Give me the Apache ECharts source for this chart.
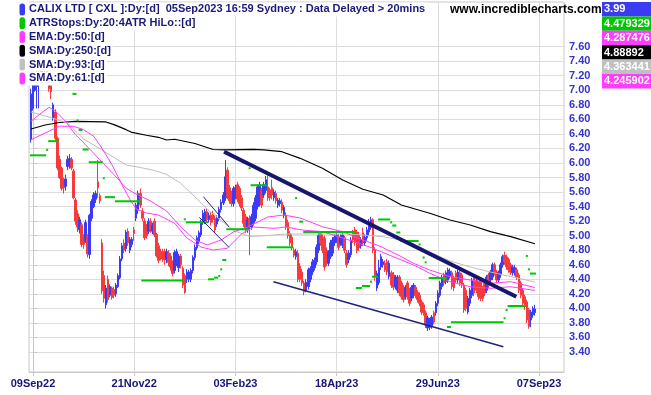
<!DOCTYPE html>
<html><head><meta charset="utf-8">
<script src="https://cdn.jsdelivr.net/npm/echarts@6/dist/echarts.min.js"></script>
<style>html,body{margin:0;padding:0;background:#fff}#c{width:651px;height:395px}</style>
</head><body><div id="c"></div>
<script>
// ---------- data ----------
const tickIdx = [0, 50, 100, 150, 200, 250];
const tickLabels = ['09Sep22', '21Nov22', '03Feb23', '18Apr23', '29Jun23', '07Sep23'];
const priceTicks = [3.4, 3.6, 3.8, 4.0, 4.2, 4.4, 4.6, 4.8, 5.0, 5.2, 5.4, 5.6, 5.8, 6.0, 6.2, 6.4, 6.6, 6.8, 7.0, 7.2, 7.4, 7.6];
const barStart = -1; // trading-day index of first bar (0 = 09Sep22)

const opens = [6.32,6.75,7.00,7.05,7.10,7.25,7.35,7.30,7.28,7.20,7.10,
6.62,6.70,6.34,6.05,5.93,5.72,5.68,5.95,6.00,6.05,
5.89,5.49,5.30,5.08,5.15,4.98,4.93,5.00,4.74,5.24,
5.40,5.50,5.74,5.55,4.90,4.45,4.05,4.40,4.18,4.28,
4.26,4.20,4.30,4.42,4.68,4.90,4.82,5.06,4.80,4.88,
5.08,5.24,5.35,5.58,5.34,5.20,5.12,5.06,5.20,5.06,
5.20,5.02,4.86,4.78,4.78,4.78,4.67,4.76,4.72,4.62,
4.52,4.62,4.56,4.72,4.55,4.45,4.40,4.40,4.40,4.52,
4.70,4.83,4.92,5.01,5.18,5.20,5.33,5.22,5.28,5.30,
5.24,5.16,5.24,5.36,5.45,5.52,5.90,5.66,5.58,5.44,
5.54,5.70,5.65,5.52,5.35,5.26,5.08,5.24,5.12,5.18,
5.24,5.40,5.44,5.63,5.56,5.62,5.67,5.63,5.66,5.52,
5.58,5.42,5.44,5.46,5.28,5.28,5.18,5.03,4.98,4.80,
4.71,4.76,4.58,4.50,4.35,4.25,4.30,4.40,4.50,4.56,
4.64,4.80,5.03,4.98,4.96,4.80,4.62,4.71,4.76,4.90,
4.94,4.98,4.90,4.87,4.97,4.76,4.67,4.74,5.05,5.08,
5.05,5.01,4.86,5.04,4.90,4.97,5.05,5.11,5.22,4.80,
4.28,4.35,4.57,4.60,4.62,4.64,4.44,4.49,4.46,4.30,
4.25,4.43,4.35,4.29,4.16,4.35,4.25,4.14,4.18,4.29,
4.22,4.18,4.09,4.05,3.94,3.73,3.74,3.76,3.94,3.94,
4.07,4.18,4.30,4.46,4.37,4.39,4.45,4.49,4.42,4.49,
4.39,4.49,4.46,4.32,4.25,3.95,4.07,4.18,4.42,4.39,
4.35,4.39,4.28,4.35,4.25,4.46,4.39,4.43,4.60,4.50,
4.39,4.46,4.60,4.73,4.71,4.67,4.60,4.49,4.49,4.53,
4.46,4.35,4.25,4.16,4.09,3.98,3.84,3.91,3.94];

const closes = [6.95,7.15,7.20,7.15,7.25,7.35,7.30,7.28,7.15,7.02,6.98,
6.80,6.34,5.93,5.80,5.65,5.66,5.78,6.05,6.06,5.93,
5.52,5.20,5.12,5.22,4.88,4.88,5.18,4.75,5.28,5.47,
5.56,5.58,5.66,5.48,4.24,4.14,4.28,4.12,4.30,4.15,
4.18,4.32,4.45,4.68,4.86,4.80,5.05,4.90,4.95,4.95,
5.03,5.42,5.58,5.42,5.24,4.97,5.00,5.20,5.08,5.14,
5.01,4.72,4.66,4.70,4.68,4.67,4.78,4.63,4.57,4.48,
4.77,4.78,4.72,4.60,4.32,4.22,4.50,4.50,4.52,4.70,
4.84,4.97,5.04,5.19,5.31,5.33,5.22,5.28,5.18,5.22,
5.08,5.24,5.36,5.46,5.56,5.81,5.54,5.48,5.44,5.65,
5.66,5.50,5.44,5.38,5.17,5.08,5.22,5.12,5.26,5.42,
5.52,5.67,5.70,5.42,5.70,5.77,5.52,5.52,5.56,5.60,
5.48,5.49,5.48,5.35,5.39,5.12,5.00,4.90,4.84,4.73,
4.78,4.40,4.40,4.35,4.23,4.36,4.53,4.55,4.64,4.66,
4.84,5.00,4.90,4.80,4.57,4.62,4.77,4.90,4.94,4.98,
5.01,4.84,4.98,5.01,4.80,4.60,4.76,4.94,4.94,4.90,
4.80,4.83,4.94,4.90,4.98,5.08,5.19,5.22,4.80,4.43,
4.48,4.56,4.71,4.64,4.53,4.50,4.62,4.32,4.29,4.43,
4.43,4.21,4.16,4.12,4.29,4.16,4.07,4.29,4.32,4.18,
4.12,4.07,3.95,3.94,3.77,3.87,3.84,3.88,3.81,4.07,
4.21,4.35,4.43,4.35,4.49,4.53,4.51,4.30,4.28,4.39,
4.50,4.35,4.32,3.98,4.00,4.14,4.25,4.39,4.21,4.25,
4.16,4.14,4.14,4.21,4.43,4.32,4.50,4.60,4.49,4.39,
4.49,4.60,4.71,4.64,4.57,4.53,4.50,4.57,4.56,4.43,
4.25,4.18,4.07,4.02,3.84,3.75,3.95,4.00,3.99];

const lows = [6.28,6.72,6.98,6.75,6.75,7.20,7.22,7.20,7.10,6.98,6.88,
6.58,6.30,5.90,5.78,5.62,5.58,5.62,5.90,5.92,5.90,
5.50,5.15,5.05,5.03,4.84,4.82,4.90,4.70,4.68,5.20,
5.38,5.45,5.52,5.44,4.20,4.08,4.00,4.08,4.15,4.12,
4.14,4.16,4.28,4.40,4.65,4.76,4.78,4.86,4.76,4.84,
4.93,5.20,5.30,5.38,5.20,4.94,4.96,5.02,5.04,5.02,
4.98,4.70,4.62,4.66,4.64,4.60,4.62,4.58,4.52,4.44,
4.48,4.58,4.50,4.55,4.28,4.20,4.35,4.36,4.36,4.48,
4.66,4.80,4.88,4.98,5.15,5.16,5.18,5.18,5.14,5.18,
5.04,5.12,5.20,5.32,5.42,5.48,5.50,5.44,5.40,5.40,
5.50,5.46,5.40,5.34,5.12,5.04,5.04,4.73,5.08,5.14,
5.20,5.36,5.40,5.38,5.52,5.58,5.48,5.48,5.50,5.48,
5.44,5.38,5.40,5.31,5.24,5.08,4.96,4.86,4.80,4.70,
4.67,4.36,4.36,4.31,4.18,4.22,4.26,4.36,4.46,4.52,
4.60,4.76,4.86,4.76,4.52,4.58,4.58,4.68,4.72,4.86,
4.90,4.80,4.86,4.83,4.76,4.56,4.62,4.70,4.90,4.86,
4.76,4.79,4.82,4.86,4.86,4.93,5.01,5.08,4.76,4.38,
4.24,4.32,4.53,4.56,4.50,4.46,4.40,4.28,4.25,4.26,
4.21,4.17,4.12,4.08,4.12,4.12,4.03,4.10,4.14,4.14,
4.08,4.03,3.91,3.90,3.73,3.69,3.70,3.72,3.78,3.90,
4.03,4.15,4.26,4.31,4.33,4.35,4.41,4.26,4.24,4.35,
4.35,4.31,4.28,3.94,3.96,3.92,4.03,4.14,4.17,4.21,
4.12,4.10,4.10,4.17,4.21,4.28,4.35,4.39,4.45,4.35,
4.35,4.42,4.56,4.60,4.53,4.49,4.46,4.45,4.45,4.39,
4.21,4.14,4.03,3.98,3.80,3.72,3.74,3.87,3.90];

const highs = [7.02,7.20,7.25,7.30,7.35,7.45,7.45,7.40,7.35,7.25,7.15,
6.83,6.74,6.36,6.10,5.95,5.80,5.84,6.10,6.12,6.08,
5.92,5.52,5.35,5.26,5.18,5.02,5.22,5.02,5.30,5.50,
5.60,5.62,6.04,5.58,4.95,4.52,4.32,4.45,4.33,4.30,
4.30,4.35,4.48,4.72,4.90,4.95,5.08,5.10,4.98,4.98,
5.12,5.45,5.62,5.65,5.38,5.24,5.16,5.24,5.24,5.18,
5.24,5.04,4.90,4.82,4.82,4.82,4.82,4.80,4.76,4.66,
4.80,4.82,4.75,4.75,4.58,4.48,4.54,4.53,4.55,4.73,
4.88,5.00,5.07,5.22,5.35,5.37,5.38,5.32,5.32,5.34,
5.28,5.28,5.40,5.50,5.60,6.04,5.94,5.70,5.62,5.68,
5.70,5.74,5.68,5.56,5.38,5.30,5.26,5.28,5.30,5.46,
5.56,5.70,5.74,5.66,5.74,5.82,5.83,5.66,5.77,5.64,
5.62,5.52,5.52,5.50,5.42,5.32,5.22,5.06,5.02,4.84,
4.82,4.80,4.62,4.54,4.38,4.40,4.56,4.58,4.68,4.70,
4.88,5.04,5.06,5.02,5.00,4.84,4.80,4.94,4.98,5.02,
5.05,5.02,5.02,5.05,5.00,4.80,4.80,4.98,5.08,5.12,
5.08,5.05,4.98,5.11,5.02,5.12,5.23,5.26,5.24,4.84,
4.52,4.67,4.75,4.68,4.66,4.68,4.66,4.52,4.50,4.46,
4.46,4.46,4.38,4.32,4.32,4.38,4.28,4.32,4.35,4.32,
4.25,4.22,4.12,4.08,3.97,3.90,3.87,3.91,3.97,4.10,
4.25,4.38,4.46,4.49,4.52,4.56,4.55,4.52,4.45,4.52,
4.53,4.52,4.49,4.35,4.28,4.17,4.28,4.42,4.45,4.42,
4.38,4.42,4.31,4.38,4.46,4.49,4.53,4.63,4.63,4.53,
4.52,4.63,4.74,4.78,4.74,4.70,4.63,4.60,4.60,4.56,
4.49,4.38,4.28,4.19,4.12,4.01,3.98,4.03,4.05];

// indicator lines, [trading-day index, price]
const sma250 = [[-1,6.467],[6,6.522],[13,6.557],[21,6.573],[36,6.564],[40,6.527],[46,6.458],[49,6.42],[56,6.381],[62,6.353],[66,6.316],[70,6.326],[80,6.268],[89,6.185],[95,6.179],[109,6.188],[114,6.179],[123,6.155],[132,6.064],[143,5.927],[153,5.766],[163,5.638],[173,5.56],[182,5.422],[196,5.308],[206,5.216],[216,5.147],[226,5.055],[236,4.986],[248,4.889]];
const sma93 = [[-1,6.701],[8,6.632],[17,6.55],[21,6.44],[25,6.33],[30,6.247],[38,6.11],[46,5.972],[53,5.938],[60,5.897],[66,5.842],[73,5.72],[80,5.536],[86,5.367],[93,5.209],[99,5.071],[107,4.989],[113,4.996],[125,5.023],[139,5.023],[156,5.023],[173,4.986],[186,4.917],[196,4.775],[206,4.652],[216,4.569],[226,4.50],[236,4.438],[248,4.363]];
const ema50 = [[-1,6.573],[3,6.664],[8,6.766],[10,6.733],[13,6.664],[16,6.573],[21,6.389],[26,6.251],[33,6.045],[40,5.839],[46,5.656],[49,5.601],[58,5.477],[66,5.339],[73,5.119],[80,4.941],[86,4.872],[93,4.941],[99,5.051],[106,5.119],[116,5.257],[124,5.284],[132,5.243],[143,5.123],[153,5.055],[163,4.941],[172,4.848],[182,4.711],[188,4.62],[196,4.528],[206,4.436],[216,4.39],[226,4.345],[236,4.367],[248,4.287]];
const sma61 = [[-1,6.32],[6,6.412],[13,6.505],[20,6.505],[25,6.458],[30,6.367],[34,6.206],[39,5.976],[44,5.701],[48,5.491],[51,5.367],[56,5.312],[62,5.284],[70,5.17],[76,4.968],[83,4.844],[89,4.803],[96,4.826],[103,5.023],[109,5.119],[119,5.101],[125,5.119],[133,5.078],[143,5.055],[156,4.941],[166,4.848],[176,4.734],[188,4.597],[196,4.483],[206,4.367],[216,4.298],[226,4.276],[236,4.298],[248,4.246]];
// ATR trailing stop: [first index, last index, level]
const atrStops = [[-1,6,6.105],[7,7,6.18],[8,12,6.30],[20,21,6.95],[22,22,6.585],[23,24,6.454],[25,27,6.185],[28,34,6.01],[35,35,5.79],[36,40,5.53],[41,53,5.473],[54,74,4.384],[75,75,5.225],[76,86,5.184],[87,89,4.40],[90,91,4.422],[92,92,4.445],[93,93,4.537],[94,95,4.665],[96,106,5.089],[107,107,5.927],[108,115,5.694],[116,128,4.84],[129,129,5.67],[130,130,5.517],[132,133,5.193],[134,159,5.05],[160,162,4.28],[163,166,4.308],[167,167,4.367],[168,170,4.436],[171,176,5.223],[177,177,5.184],[178,179,5.14],[180,181,5.044],[182,190,4.927],[191,191,4.88],[193,193,4.70],[194,194,4.634],[196,204,4.418],[205,206,3.744],[207,232,3.809],[233,233,3.864],[234,234,3.978],[235,243,4.033],[244,244,4.721],[245,245,4.537],[246,248,4.479]];
// drawn trendlines
const trendMain = [[94.4,6.155],[238.8,4.161]];
const trendLow = [[118.8,4.367],[232.4,3.473]];
const trendShortA = [[84.2,5.536],[96.9,5.12]];
const trendShortB = [[82.2,5.253],[96.8,4.84]];

const legendTexts = ['CALIX LTD [ CXL ]:Dy:[d]  05Sep2023 16:59 Sydney : Data Delayed > 20mins','ATRStops:Dy:20:4ATR HiLo::[d]','EMA:Dy:50:[d]','SMA:Dy:250:[d]','SMA:Dy:93:[d]','SMA:Dy:61:[d]'];
const lastValues = ['3.99','4.479329','4.287476','4.88892','4.363441','4.245902'];

// ---------- styles ----------
const C_UP = '#3b3bf4', C_DN = '#f53b3b', C_GREEN = '#00c800', C_MAG = '#ff3cff', C_SILVER = '#c0c0c0', C_NAVY = '#16166e';
const rowColors = [C_UP, C_GREEN, C_MAG, '#000000', C_SILVER, C_MAG];
const FONT = '"Liberation Sans", Arial, sans-serif';

const bars = opens.map((o, i) => [barStart + i, o, closes[i], lows[i], highs[i]]);

const chart = echarts.init(document.getElementById('c'), null, {renderer: 'canvas'});

function lineSeries(data, color, width) {
  return {type: 'line', data: data, showSymbol: false, symbol: 'none', silent: true, z: 4,
    lineStyle: {color: color, width: width}, animation: false};
}

// legend graphics
const mctx = document.createElement('canvas').getContext('2d');
const legFont = 'bold 11px ' + FONT;
mctx.font = legFont;
const graphics = [];
const rowH = 13.8, row0 = 2.5;
legendTexts.forEach((t, k) => {
  const cy = row0 + rowH * k + rowH / 2;
  const w = mctx.measureText(t).width;
  graphics.push({type: 'rect', z: 100, shape: {x: 17, y: cy - 7, width: 29 + w + 2 - 17, height: 14}, style: {fill: '#ffffff'}});
  graphics.push({type: 'rect', z: 101, shape: {x: 19.5, y: cy - 6, width: 5.5, height: 12, r: 2.5}, style: {fill: rowColors[k]}});
  graphics.push({type: 'text', z: 102, x: 29, y: cy, style: {text: t, font: legFont, fill: '#1a1a78', verticalAlign: 'middle', align: 'left'}});
});
graphics.push({type: 'text', z: 102, x: 450, y: 9.5, style: {text: 'www.incrediblecharts.com', font: 'bold 12px ' + FONT, fill: '#000', verticalAlign: 'middle'}});
lastValues.forEach((v, k) => {
  const y0 = 2 + 14.4 * k;
  graphics.push({type: 'rect', z: 100, shape: {x: 602, y: y0, width: 49, height: 14.4}, style: {fill: rowColors[k]}});
  graphics.push({type: 'text', z: 101, x: 604, y: y0 + 7.4, style: {text: v, font: 'bold 11px ' + FONT, fill: '#fff', verticalAlign: 'middle'}});
});

const option = {
  animation: false,
  backgroundColor: '#ffffff',
  grid: {left: 29, right: 87, top: 2, bottom: 23, show: true, borderColor: '#c8c8c8', borderWidth: 1, containLabel: false, outerBoundsMode: 'none'},
  xAxis: {
    type: 'value', min: -1.976, max: 262.35,
    axisLine: {show: true, onZero: false, lineStyle: {color: '#c8c8c8'}},
    axisTick: {show: true, customValues: tickIdx, length: 4, lineStyle: {color: '#c8c8c8'}},
    axisLabel: {customValues: tickIdx, formatter: v => tickLabels[tickIdx.indexOf(Math.round(v))] || '',
      color: '#16167a', fontWeight: 'bold', fontSize: 11, fontFamily: FONT, margin: 6},
    splitLine: {show: true, lineStyle: {color: '#dddddd', width: 1}}
  },
  yAxis: {
    type: 'value', position: 'right', min: 3.125, max: 8.214,
    axisLine: {show: true, lineStyle: {color: '#c8c8c8'}},
    axisTick: {show: true, customValues: priceTicks, length: 4, lineStyle: {color: '#c8c8c8'}},
    axisLabel: {customValues: priceTicks, formatter: v => v.toFixed(2), color: '#3434cc', fontWeight: 'bold', fontSize: 11, fontFamily: FONT, margin: 5},
    splitLine: {show: true, lineStyle: {color: '#dddddd', width: 1}}
  },
  series: [
    lineSeries(sma250, '#000000', 1.2),
    lineSeries(sma93, '#bdbdbd', 1),
    lineSeries(ema50, C_MAG, 1),
    lineSeries(sma61, C_MAG, 1),
    {
      type: 'candlestick', data: bars, z: 3, silent: true,
      dimensions: ['idx', 'open', 'close', 'lowest', 'highest'],
      encode: {x: 'idx', y: ['open', 'close', 'lowest', 'highest']},
      barWidth: 2,
      itemStyle: {color: C_UP, color0: C_DN, borderColor: C_UP, borderColor0: C_DN, borderWidth: 1}
    },
    {
      type: 'custom', data: atrStops, z: 5, silent: true,
      encode: {x: [0, 1], y: 2},
      renderItem: function (params, api) {
        const p1 = api.coord([api.value(0) - 0.5, api.value(2)]);
        const p2 = api.coord([api.value(1) + 0.5, api.value(2)]);
        return {type: 'rect', shape: {x: p1[0], y: p1[1] - 1, width: Math.max(2, p2[0] - p1[0]), height: 2}, style: {fill: C_GREEN}};
      }
    },
    Object.assign(lineSeries(trendMain, C_NAVY, 4), {z: 6}),
    Object.assign(lineSeries(trendLow, '#22227e', 1.5), {z: 6}),
    Object.assign(lineSeries(trendShortA, '#22227e', 1), {z: 6}),
    Object.assign(lineSeries(trendShortB, '#22227e', 1), {z: 6})
  ],
  graphic: {elements: graphics}
};
chart.setOption(option);
</script>
</body></html>
